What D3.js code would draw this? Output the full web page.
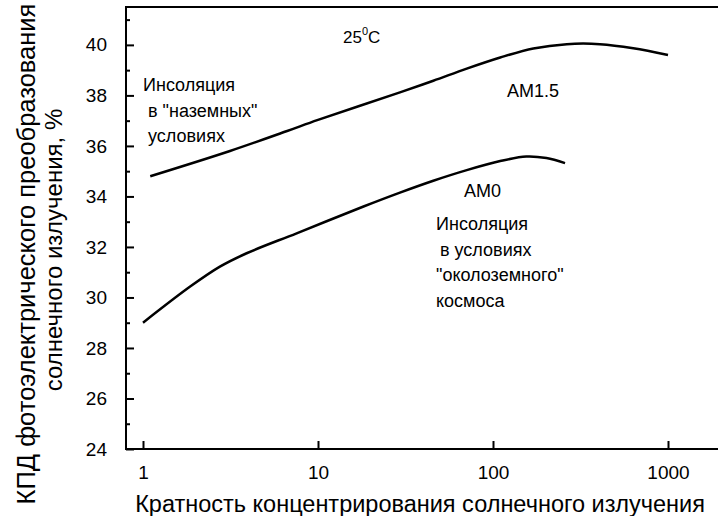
<!DOCTYPE html>
<html>
<head>
<meta charset="utf-8">
<script src="https://cdn.jsdelivr.net/npm/d3@7"></script>
<style>
  body { margin: 0; background: #fff; }
  text { font-family: "Liberation Sans", Arial, sans-serif; fill: #000; }
</style>
</head>
<body>
<script>
// AM1.5 - "ground" insolation
var am15X = [1.1, 3.14, 6.6, 10, 29.4, 45.6, 70.8, 110, 170, 264, 408, 633, 1000];
var am15Y = [34.8, 35.8, 36.58, 37.03, 38.12, 38.58, 39.06, 39.5, 39.86, 40.03, 40.03, 39.87, 39.6];

// AM0 - near-earth space
var am0X = [1, 1.86, 2.75, 3.91, 7.55, 18.2, 29.4, 45.6, 70.8, 110, 155, 202, 258];
var am0Y = [29.0, 30.43, 31.22, 31.75, 32.54, 33.6, 34.15, 34.62, 35.04, 35.4, 35.58, 35.52, 35.32];

var xTicks = [1, 10, 100, 1000];
var yTicks = [24, 26, 28, 30, 32, 34, 36, 38, 40];
var yMinor = [25, 27, 29, 31, 33, 35, 37, 39, 41];

var xTitle = 'Кратность концентрирования солнечного излучения';
var yTitle = ['КПД фотоэлектрического преобразования', 'солнечного излучения, %'];
var noteGround = ['Инсоляция', 'в "наземных"', 'условиях'];
var noteSpace = ['Инсоляция', 'в условиях', '"околоземного"', 'космоса'];

var width = 718, height = 516;
var plotL = 126, plotR = 718, plotT = 7, plotB = 449;

var svg = d3.select('body').append('svg')
  .attr('width', width)
  .attr('height', height);

var xScale = d3.scaleLog()
  .domain([1, 1000])
  .range([143, 668]);

var yScale = d3.scaleLinear()
  .domain([24, 41.5])
  .range([plotB, plotT]);

// frame: left axis, top and bottom lines (no right border)
var frame = svg.append('g')
  .attr('stroke', '#000')
  .attr('stroke-width', 2);
frame.append('line').attr('x1', plotL).attr('x2', plotL).attr('y1', plotT - 1).attr('y2', plotB + 1);
frame.append('line').attr('x1', plotL).attr('x2', plotR).attr('y1', plotT).attr('y2', plotT);
frame.append('line').attr('x1', plotL - 1).attr('x2', plotR).attr('y1', plotB).attr('y2', plotB);

// x axis
var xAxis = d3.axisBottom(xScale)
  .tickValues(xTicks)
  .tickFormat(d3.format('d'))
  .tickSizeInner(-8)
  .tickSizeOuter(0)
  .tickPadding(17);

var gx = svg.append('g')
  .attr('transform', 'translate(0,' + plotB + ')')
  .call(xAxis);
gx.select('.domain').remove();
gx.selectAll('.tick line').attr('stroke', '#000').attr('stroke-width', 2);
gx.selectAll('.tick text')
  .attr('font-size', 19)
  .attr('font-family', '"Liberation Sans", Arial, sans-serif');

// y axis
var yAxis = d3.axisLeft(yScale)
  .tickValues(yTicks)
  .tickFormat(d3.format('d'))
  .tickSizeInner(-8)
  .tickSizeOuter(0)
  .tickPadding(19);

var gy = svg.append('g')
  .attr('transform', 'translate(' + plotL + ',0)')
  .call(yAxis);
gy.select('.domain').remove();
gy.selectAll('.tick line').attr('stroke', '#000').attr('stroke-width', 2);
gy.selectAll('.tick text')
  .attr('font-size', 19)
  .attr('font-family', '"Liberation Sans", Arial, sans-serif');

var yAxisMinor = d3.axisLeft(yScale)
  .tickValues(yMinor)
  .tickFormat('')
  .tickSizeInner(-4)
  .tickSizeOuter(0);

var gyMinor = svg.append('g')
  .attr('transform', 'translate(' + plotL + ',0)')
  .call(yAxisMinor);
gyMinor.select('.domain').remove();
gyMinor.selectAll('.tick line').attr('stroke', '#000').attr('stroke-width', 2);

// curves
var line = d3.line()
  .x(function(d) { return xScale(d[0]); })
  .y(function(d) { return yScale(d[1]); })
  .curve(d3.curveCatmullRom.alpha(0.5));

[[am15X, am15Y], [am0X, am0Y]].forEach(function(s) {
  svg.append('path')
    .datum(d3.zip(s[0], s[1]))
    .attr('d', line)
    .attr('fill', 'none')
    .attr('stroke', '#000')
    .attr('stroke-width', 2.5);
});

// axis titles
svg.append('text')
  .attr('x', 420)
  .attr('y', 512)
  .attr('text-anchor', 'middle')
  .attr('font-size', 23.5)
  .text(xTitle);

svg.append('text')
  .attr('transform', 'translate(35,254) rotate(-90)')
  .attr('text-anchor', 'middle')
  .attr('font-size', 25.5)
  .text(yTitle[0]);

svg.append('text')
  .attr('transform', 'translate(62,250) rotate(-90)')
  .attr('text-anchor', 'middle')
  .attr('font-size', 24)
  .text(yTitle[1]);

// annotations
var temp = svg.append('text')
  .attr('x', 343)
  .attr('y', 43)
  .attr('font-size', 17);
temp.append('tspan').text('25');
temp.append('tspan').attr('font-size', 11).attr('dy', -8).text('0');
temp.append('tspan').attr('dy', 8).text('C');

svg.append('text').attr('x', 507).attr('y', 97).attr('font-size', 18).text('AM1.5');
svg.append('text').attr('x', 464).attr('y', 197).attr('font-size', 18).text('AM0');

var ground = svg.append('g');
noteGround.forEach(function(t, i) {
  ground.append('text')
    .attr('x', i === 0 ? 143 : 148)
    .attr('y', 91 + i * 25.5)
    .attr('font-size', 18)
    .text(t);
});

var space = svg.append('g');
noteSpace.forEach(function(t, i) {
  space.append('text')
    .attr('x', i === 1 ? 440 : 436)
    .attr('y', 230 + i * 25.5)
    .attr('font-size', 18)
    .text(t);
});
</script>
</body>
</html>
